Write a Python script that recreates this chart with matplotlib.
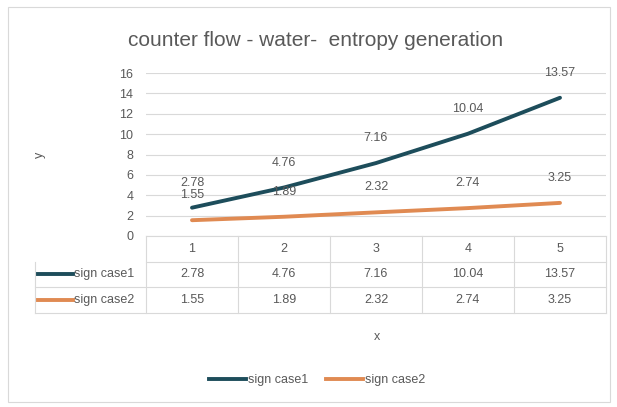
import matplotlib
matplotlib.use("Agg")
import matplotlib.pyplot as plt
from matplotlib.lines import Line2D

categories = ["1", "2", "3", "4", "5"]
case1 = [2.78, 4.76, 7.16, 10.04, 13.57]
case2 = [1.55, 1.89, 2.32, 2.74, 3.25]
series_names = ["sign case1", "sign case2"]
yticks = [0, 2, 4, 6, 8, 10, 12, 14, 16]

TEXT = "#595959"
GRID = "#d9d9d9"
COLORS = ["#1d4d5b", "#e08a52"]
FS = 9

W, H = 617, 407
fig = plt.figure(figsize=(W / 100, H / 100), dpi=100)
plt.rcParams["font.family"] = ["Liberation Sans", "DejaVu Sans"]

# plot area in pixels
left, right, top, bottom = 146, 606, 73, 236
ax = fig.add_axes([left / W, (H - bottom) / H, (right - left) / W, (bottom - top) / H])

xs = [i + 0.5 for i in range(len(categories))]
for vals, color, name in zip([case1, case2], COLORS, series_names):
    ax.plot(xs, vals, color=color, linewidth=2.8, solid_capstyle="round", label=name)
    for x, v in zip(xs, vals):
        ax.annotate(f"{v:.2f}", (x, v), xytext=(0, 18), textcoords="offset points",
                    ha="center", va="center", fontsize=FS, color=TEXT)

ax.set_xlim(0, len(categories))
ax.set_ylim(0, 16)
ax.set_yticks(yticks)
ax.tick_params(axis="y", length=0, labelsize=FS, labelcolor=TEXT, pad=9)
ax.set_xticks([])
ax.grid(axis="y", color=GRID, linewidth=0.8)
ax.set_axisbelow(True)
for s in ax.spines.values():
    s.set_visible(False)

# data table under the axis
row_h = 25.5 / (bottom - top)
label_left = (35 - left) / (right - left) * len(categories)
tr = ax.get_xaxis_transform()
tbl_kw = dict(color=GRID, linewidth=0.8, clip_on=False, transform=tr)
ax.plot([0, len(categories)], [0, 0], **tbl_kw)
for r in range(1, 4):
    ax.plot([label_left if r > 1 else 0, len(categories)], [-r * row_h] * 2, **tbl_kw)
ax.plot([label_left, label_left], [-row_h, -3 * row_h], **tbl_kw)
for i in range(len(categories) + 1):
    ax.plot([i, i], [0, -3 * row_h], **tbl_kw)

for x, c in zip(xs, categories):
    ax.text(x, -0.5 * row_h, c, ha="center", va="center", fontsize=FS, color=TEXT, transform=tr)
for r, (vals, color, name) in enumerate(zip([case1, case2], COLORS, series_names), start=1):
    yy = -(r + 0.5) * row_h
    ax.add_line(Line2D([label_left + 0.03, label_left + 0.41], [yy, yy], color=color,
                       linewidth=2.8, transform=tr, clip_on=False))
    ax.text(label_left + 0.42, yy, name, ha="left", va="center", fontsize=FS, color=TEXT, transform=tr)
    for x, v in zip(xs, vals):
        ax.text(x, yy, f"{v:.2f}", ha="center", va="center", fontsize=FS, color=TEXT, transform=tr)

fig.text(377 / W, 1 - 337 / H, "x", ha="center", va="center", fontsize=FS, color=TEXT)
fig.text(40 / W, 1 - 155 / H, "y", ha="center", va="center", fontsize=FS, color=TEXT, rotation=90)
fig.text(316 / W, 1 - 40 / H, "counter flow - water-  entropy generation",
         ha="center", va="center", fontsize=15, color=TEXT)

handles = [Line2D([], [], color=c, linewidth=2.8) for c in COLORS]
fig.legend(handles, series_names, loc="center", bbox_to_anchor=(317 / W, 1 - 380 / H),
           ncol=2, frameon=False, fontsize=FS, labelcolor=TEXT, handlelength=3.0,
           handletextpad=0.15, columnspacing=1.4)

# outer chart border
fig.patches.append(plt.Rectangle((8 / W, 5 / H), 602 / W, 395 / H, transform=fig.transFigure,
                                 fill=False, edgecolor=GRID, linewidth=0.8))

fig.savefig("out.png", dpi=100, facecolor="white")
